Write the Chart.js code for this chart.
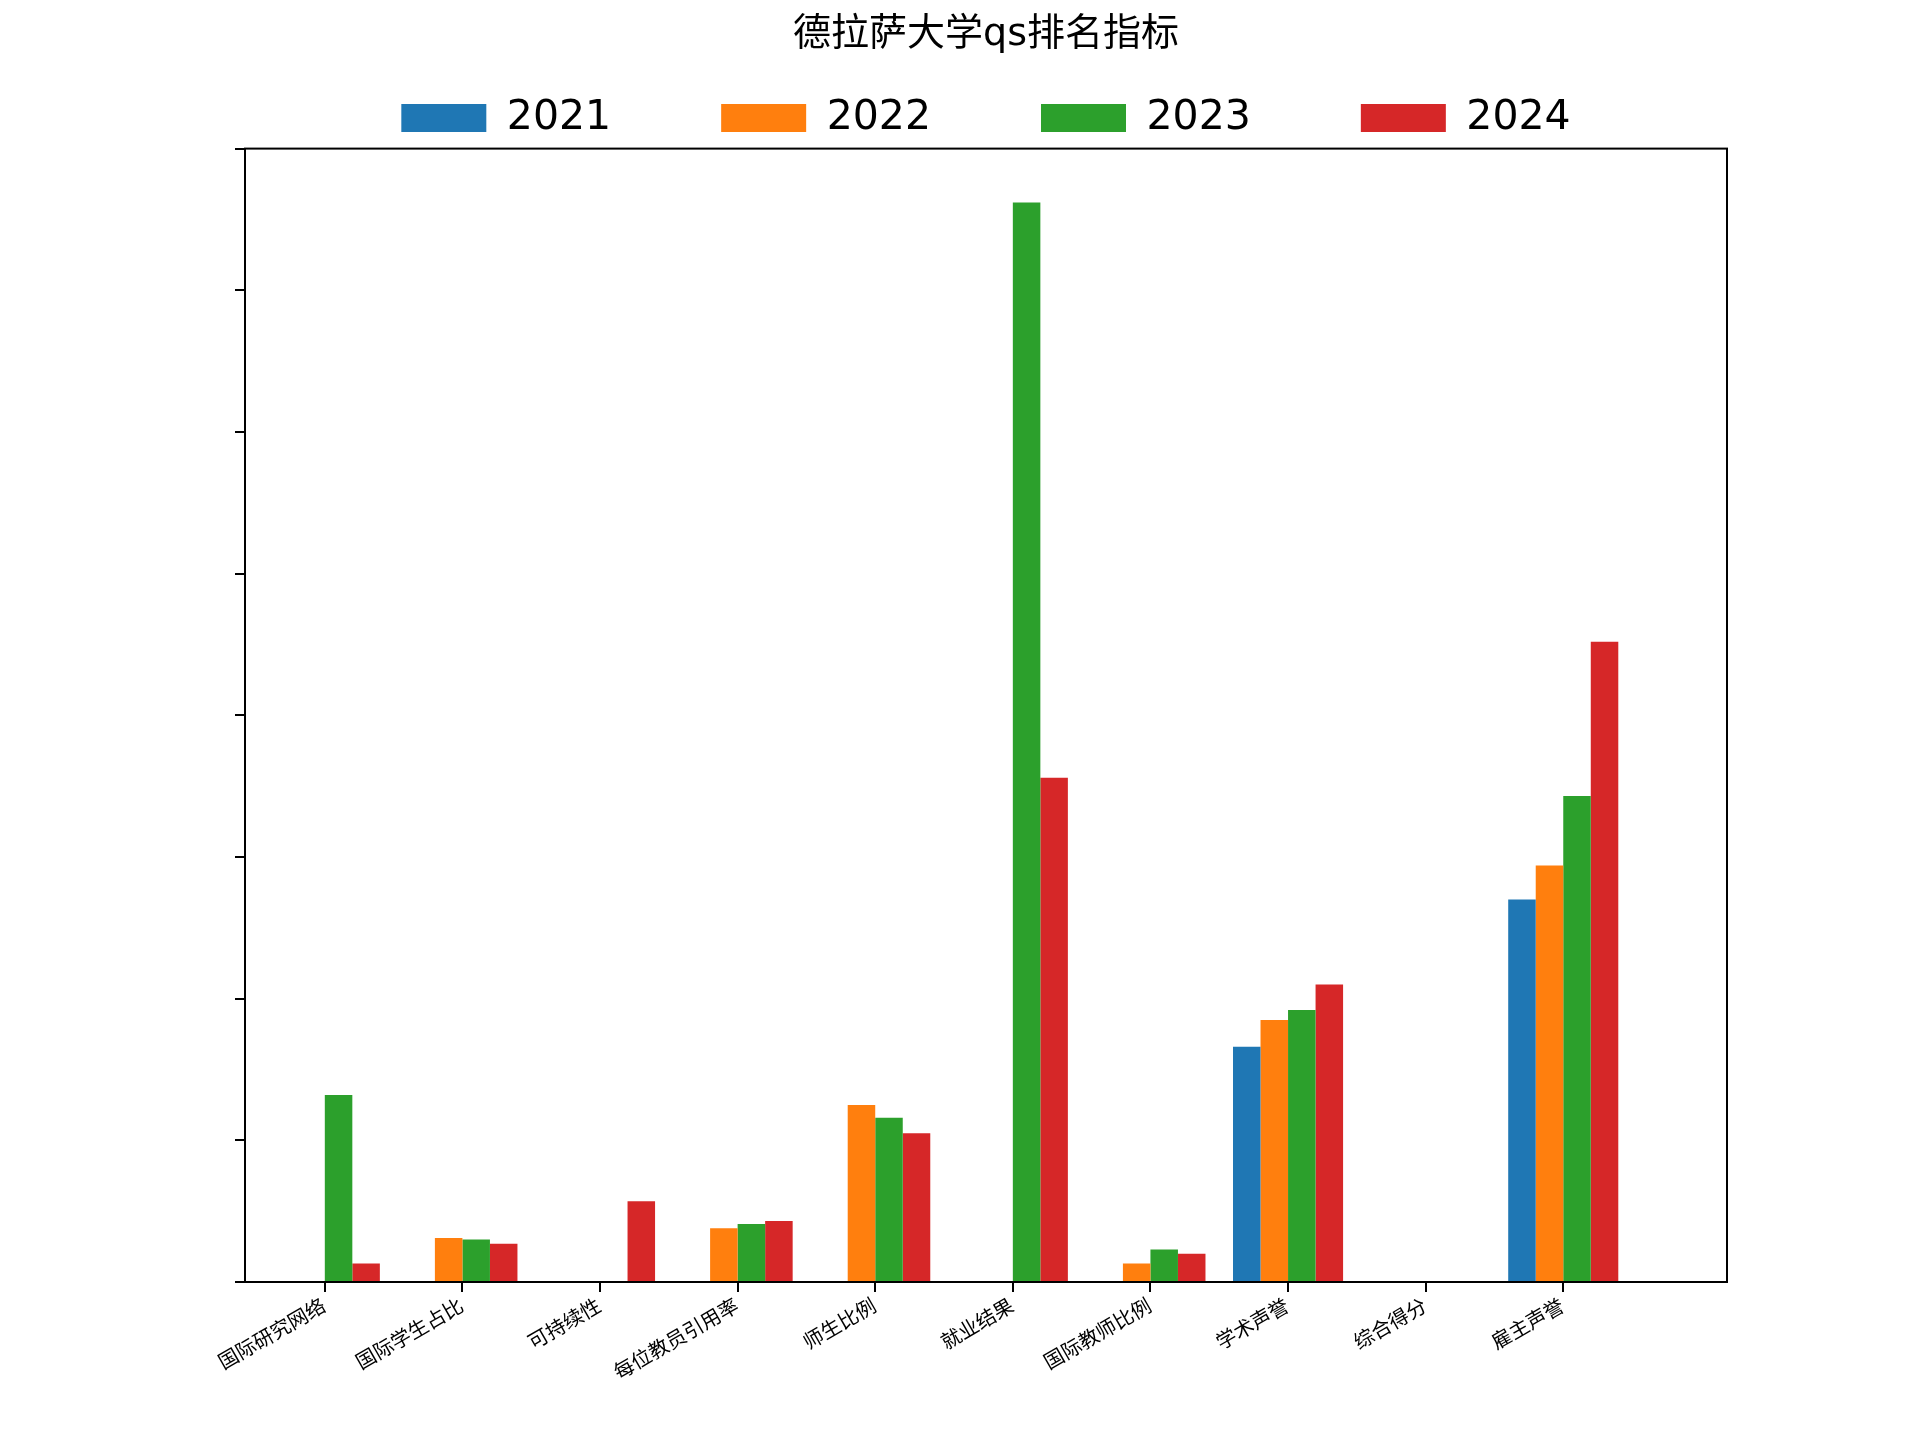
<!DOCTYPE html>
<html><head><meta charset="utf-8">
<script src="https://cdn.jsdelivr.net/npm/chart.js@4"></script>
<style>body{margin:0;background:#fff}#w{width:1920px;height:1440px}</style>
</head><body><div id="w"><canvas id="c"></canvas></div>
<script>
const categories = ['国际研究网络','国际学生占比','可持续性','每位教员引用率','师生比例','就业结果','国际教师比例','学术声誉','综合得分','雇主声誉'];
const years = ['2021','2022','2023','2024'];
const v2021 = [null,null,null,null,null,null,null,16.6,null,27.0];
const v2022 = [null,3.1,null,3.8,12.5,null,1.3,18.5,null,29.4];
const v2023 = [13.2,3.0,null,4.1,11.6,76.2,2.3,19.2,null,34.3];
const v2024 = [1.3,2.7,5.7,4.3,10.5,35.6,2.0,21.0,null,45.2];
const colors = ['#1f77b4','#ff7f0e','#2ca02c','#d62728'];
const series = [v2021,v2022,v2023,v2024];
const F = "'DejaVu Sans','Noto Sans CJK SC',sans-serif";
const frame = {id:'frame',afterDatasetsDraw(c){const a=c.chartArea,x=c.ctx;x.save();x.strokeStyle='#000';x.lineWidth=2;x.strokeRect(a.left,a.top,a.right-a.left,a.bottom-a.top);x.restore();}};
new Chart(document.getElementById('c'),{
 type:'bar',
 data:{datasets:series.map((s,i)=>({label:years[i],data:s.map((v,j)=>({x:j,y:v})),backgroundColor:colors[i],categoryPercentage:0.8,barPercentage:1}))},
 options:{responsive:true,maintainAspectRatio:false,animation:false,
  layout:{padding:{left:245,right:193,top:10,bottom:0}},
  plugins:{
   title:{display:true,text:'德拉萨大学qs排名指标',color:'#000',font:{family:F,size:38,weight:'normal'},padding:{top:2,bottom:12}},
   legend:{labels:{color:'#000',font:{family:F,size:41},boxWidth:85,boxHeight:28,padding:28,
     generateLabels(c){return Chart.defaults.plugins.legend.labels.generateLabels(c).map((l,i)=>({...l,text:l.text+(i<3?'\u2002\u2002\u2002\u2002':'')}));}}},
   tooltip:{enabled:false}},
  scales:{
   x:{type:'linear',offset:false,min:-0.58,max:10.19,afterFit(s){s.height=158;},
      afterBuildTicks(s){s.ticks=categories.map((_,i)=>({value:i}));},
      ticks:{autoSkip:false,maxRotation:30,minRotation:30,color:'#000',font:{family:F,size:20},callback:(v)=>categories[v]??''},
      grid:{offset:false,drawOnChartArea:false,drawTicks:true,tickLength:10,color:'#000',lineWidth:2},border:{color:'#000',width:2}},
   y:{min:0,max:80,afterFit(s){s.width=0;},
      ticks:{stepSize:10,color:'#000',font:{family:F,size:40}},
      grid:{drawOnChartArea:false,drawTicks:true,tickLength:10,color:'#000',lineWidth:2},border:{color:'#000',width:2}}
  }},
 plugins:[frame]
});
</script></body></html>
